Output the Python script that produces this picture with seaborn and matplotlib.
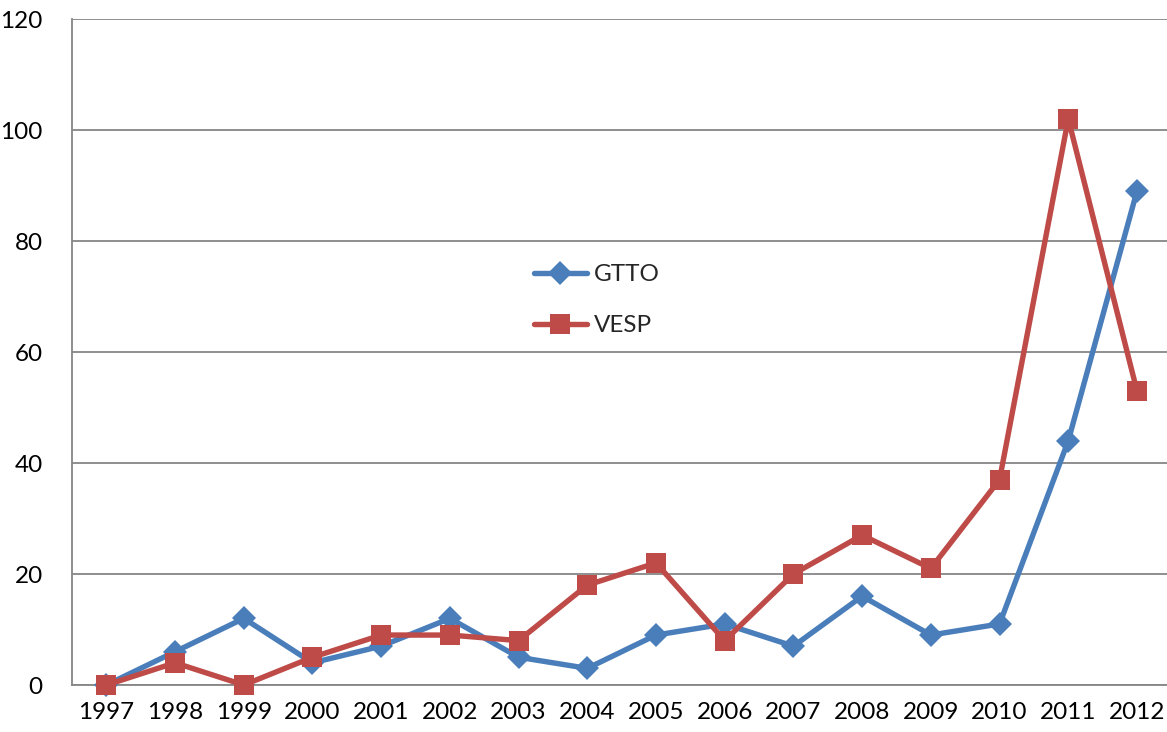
import matplotlib
matplotlib.use("Agg")
import matplotlib.pyplot as plt
import seaborn as sns
import pandas as pd
import numpy as np

years = [1997, 1998, 1999, 2000, 2001, 2002, 2003, 2004, 2005, 2006, 2007, 2008, 2009, 2010, 2011, 2012]
gtto = [0, 6, 12, 4, 7, 12, 5, 3, 9, 11, 7, 16, 9, 11, 44, 89]
vesp = [0, 4, 0, 5, 9, 9, 8, 18, 22, 8, 20, 27, 21, 37, 102, 53]
series_names = ["GTTO", "VESP"]
y_ticks = [0, 20, 40, 60, 80, 100, 120]

df = pd.DataFrame({
    "year": years * 2,
    "value": gtto + vesp,
    "series": [series_names[0]] * len(years) + [series_names[1]] * len(years),
})

sns.set_style("white")
plt.rcParams["font.family"] = ["Lato", "DejaVu Sans"]

fig = plt.figure(figsize=(11.67, 7.32), dpi=100)
ax = fig.add_axes([0.0617, 0.0642, 0.942, 0.9098])

palette = {"GTTO": "#4A7EBB", "VESP": "#BE4B48"}
markers = {"GTTO": "D", "VESP": "s"}
sizes = {"GTTO": 12.5, "VESP": 14.5}

for name in series_names:
    sub = df[df["series"] == name]
    sns.lineplot(data=sub, x="year", y="value", ax=ax, color=palette[name],
                 linewidth=3.9, marker=markers[name], markersize=sizes[name],
                 markeredgewidth=0, label=name, zorder=3, clip_on=False)

ax.set_xlim(years[0] - 0.5, years[-1] + 0.5)
ax.set_ylim(y_ticks[0], y_ticks[-1])
ax.set_yticks(y_ticks)
ax.set_xticks(years)
ax.set_xticklabels([str(y) for y in years])
ax.set_xticks(np.arange(years[0] - 0.5, years[-1] + 1, 1), minor=True)
ax.tick_params(axis="x", which="major", length=0, pad=12, labelsize=17.5, colors="black")
ax.tick_params(axis="x", which="minor", length=7, width=1.3, color="#868686", direction="out")
ax.tick_params(axis="y", which="major", length=7, width=1.3, color="#868686", pad=14, labelsize=17.5, labelcolor="black")
ax.yaxis.grid(True, color="#868686", linewidth=1.3, zorder=0)
ax.set_axisbelow(True)
ax.set_xlabel("")
ax.set_ylabel("")

for side in ["top", "right"]:
    ax.spines[side].set_visible(False)
for side in ["left", "bottom"]:
    ax.spines[side].set_color("#868686")
    ax.spines[side].set_linewidth(1.3)

leg = ax.legend(loc="upper left", bbox_to_anchor=(0.4, 0.665), frameon=False,
                fontsize=17.5, handlelength=2.2, labelspacing=1.25, handletextpad=0.3)

fig.savefig("out.png", dpi=100)
